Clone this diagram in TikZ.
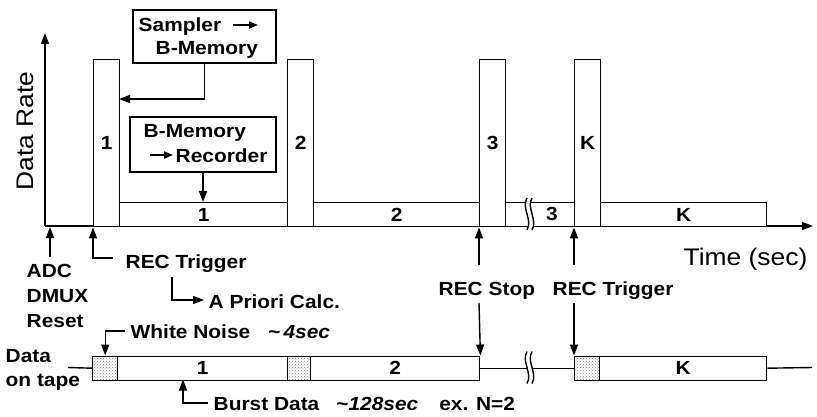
\documentclass[tikz,border=0pt]{standalone}
\usepackage{fontspec}
\setmainfont[FakeStretch=1.1]{Liberation Sans}
\usetikzlibrary{arrows.meta,patterns}
\begin{document}
\begin{tikzpicture}[x=1pt,y=-1pt,line width=1.4pt,
  arr/.style={-{Triangle[length=11pt,width=8pt]}},
  garr/.style={line width=1.7pt,-{Triangle[length=9pt,width=7pt]}},
  lbl/.style={inner sep=0,anchor=base west,font=\fontsize{19}{22}\selectfont\bfseries},
  big/.style={inner sep=0,font=\fontsize{24}{28}\selectfont},
  num/.style={inner sep=0,font=\fontsize{19}{22}\selectfont\bfseries},
  barbox/.style={draw,fill=white,inner sep=0,anchor=north west,minimum width=26pt,minimum height=167pt},
  lowbox/.style={draw,fill=white,inner sep=0,anchor=north west,minimum height=24pt},
  tapebox/.style={draw,fill=white,inner sep=0,anchor=north west,minimum height=24pt},
  stipbox/.style={tapebox,pattern=crosshatch dots,pattern color=gray},
  txtbox/.style={draw,inner sep=0},
  brk/.pic={
    \fill[white] (-1,-16) .. controls (-7,-6) and (5,6) .. (-1,16) -- (4,16)
       .. controls (10,6) and (-2,-6) .. (4,-16) -- cycle;
    \draw (-1,-16) .. controls (-7,-6) and (5,6) .. (-1,16);
    \draw (4,-16) .. controls (-2,-6) and (10,6) .. (4,16);
  }]
\useasboundingbox (0,0) rectangle (817,417);

% axes
\coordinate (O) at (45,226);
\coordinate (Xend) at (813,226);
\coordinate (Yend) at (45,33);
\draw[arr] (O) -- (Xend);
\draw[arr] (O) -- (Yend);
\node[big,rotate=90] (ylab) at (25,131) {Data Rate};
\node[big,anchor=base west] (xlab) at (683,265) {Time (sec)};

% low boxes
\node[lowbox,minimum width=168pt] (l1) at (119,202) {};
\node[lowbox,minimum width=166pt] (l2) at (313,202) {};
\node[lowbox,minimum width=69pt] (l3) at (505,202) {};
\node[lowbox,minimum width=166pt] (lK) at (600,202) {};
\pic at (528,214) {brk};
\node[num] (l1t) at (l1) {1};
\node[num] (l2t) at (l2) {2};
\node[num] (l3t) at (552,214) {3};
\node[num] (lKt) at (lK) {K};

% tall bars
\node[barbox] (b1) at (93,59) {};
\node[barbox] (b2) at (287,59) {};
\node[barbox] (b3) at (479,59) {};
\node[barbox] (bK) at (574,59) {};
\node[num] (b1t) at (b1) {1};
\node[num] (b2t) at (b2) {2};
\node[num] (b3t) at (b3) {3};
\node[num] (bKt) at (bK) {K};

% text boxes
\node[txtbox,minimum width=143pt,minimum height=53pt] (sbox) at (204.5,36.5) {};
\node[lbl] (samp) at (138,32) {Sampler};
\node[lbl] (bm1) at (155,55) {B-Memory};
\coordinate (ga1) at (233,25);
\draw[garr] (ga1) -- ++(25,0);
\node[txtbox,minimum width=146pt,minimum height=55pt] (rbox) at (203,144.5) {};
\node[lbl] (bm2) at (143,138) {B-Memory};
\node[lbl] (rec) at (175,163) {Recorder};
\coordinate (ga2) at (150,155);
\draw[garr] (ga2) -- ++(23,0);

\coordinate (c1) at (119,99);
\draw[arr] (sbox.south) |- (c1);
\draw[arr] (rbox.south) -- (rbox.south |- l1.north);

% lower labels
\node[lbl] (adc) at (26,277) {ADC};
\node[lbl] (dmux) at (26,302) {DMUX};
\node[lbl] (reset) at (26,327) {Reset};
\coordinate (adc0) at (50,257);
\coordinate (adc1) at (50,227);
\draw[arr] (adc0) -- (adc1);

\node[lbl] (rt1) at (125,268) {REC Trigger};
\coordinate (rt1a) at (113,258);
\draw[arr] (rt1a) -| (b1.south west);
\node[lbl] (apc) at (208,308) {A Priori Calc.};
\coordinate (ap0) at (172,277);
\coordinate (ap1) at (204,300);
\draw[arr] (ap0) |- (ap1);

\node[lbl] (rs) at (438,295) {REC Stop};
\node[lbl] (rt2) at (552,295) {REC Trigger};

% tape
\coordinate (lead) at (68,367.5);
\coordinate (tend) at (812,367.5);
\node[stipbox,minimum width=25pt] (s1) at (92,355.5) {};
\node[tapebox,minimum width=170pt] (t1) at (117,355.5) {};
\node[stipbox,minimum width=23pt] (s2) at (287,355.5) {};
\node[tapebox,minimum width=169pt] (t2) at (310,355.5) {};
\node[stipbox,minimum width=25pt] (s3) at (574,355.5) {};
\node[tapebox,minimum width=167pt] (tK) at (599,355.5) {};
\draw (lead) -- (s1.west);
\draw (t2.east) -- (s3.west);
\draw (tK.east) -- (tend);
\pic at (528,367.5) {brk};
\node[num] (t1t) at (t1) {1};
\node[num] (t2t) at (t2) {2};
\node[num] (tKt) at (tK) {K};

\node[lbl] (dat) at (5,362) {Data};
\node[lbl] (ontape) at (5,386) {on tape};
\node[lbl] (wn) at (130,338) {White Noise\hspace{18pt}\textasciitilde\hspace{3pt}\textit{4sec}};
\coordinate (wn0) at (125,331);
\draw[arr] (wn0) -| (s1.north);
\node[lbl] (bd) at (213,410) {Burst Data\hspace{17pt}\textasciitilde\textit{128sec}\hspace{21pt}ex. N=2};
\coordinate (bd0) at (208,403);
\coordinate (bd1) at (183,379.5);
\draw[arr] (bd0) -| (bd1);

% REC stop / trigger arrows
\coordinate (rs0) at (479,265);
\coordinate (rs1) at (479,303);
\draw[arr] (rs0) -- (b3.south west);
\draw[arr] (rs1) -- (t2.north east);
\coordinate (rt2a) at (574,265);
\coordinate (rt2b) at (574,303);
\draw[arr] (rt2a) -- (bK.south west);
\draw[arr] (rt2b) -- (s3.north west);
\end{tikzpicture}
\end{document}
